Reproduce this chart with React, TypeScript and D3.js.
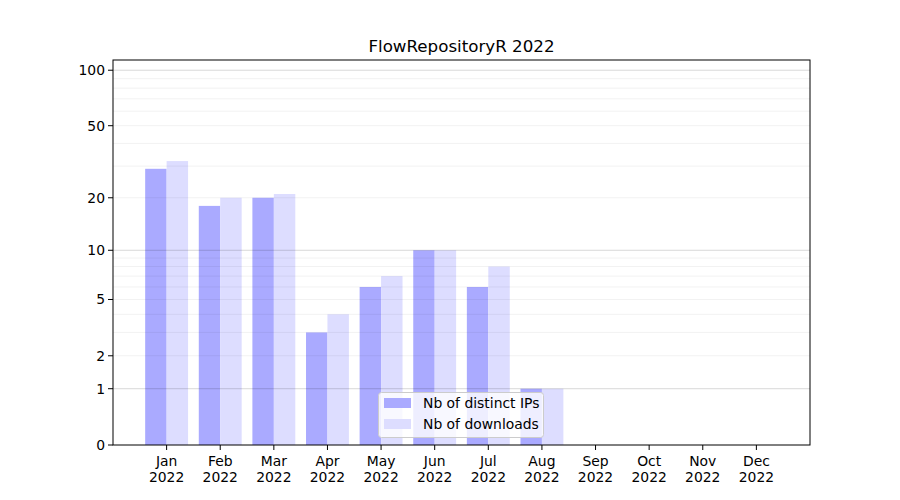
import React from "react";
import * as d3 from "d3";

const months = ["Jan", "Feb", "Mar", "Apr", "May", "Jun", "Jul", "Aug", "Sep", "Oct", "Nov", "Dec"];
const year = "2022";
const distinctIPs = [29, 18, 20, 3, 6, 10, 6, 1, 0, 0, 0, 0];
const downloads = [32, 20, 21, 4, 7, 10, 8, 1, 0, 0, 0, 0];
const yTickValues = [0, 1, 2, 5, 10, 20, 50, 100];
const majorGrid = [1, 10, 100];
const minorGrid = [2, 3, 4, 5, 6, 7, 8, 9, 20, 30, 40, 50, 60, 70, 80, 90];
const seriesNames = ["Nb of distinct IPs", "Nb of downloads"];
const title = "FlowRepositoryR 2022";

const W = 900, H = 500;
const L = 113, R = 810, T = 60, B = 445;
const FONT = "DejaVu Sans, sans-serif";
const FS = 13.9;

export default function App() {
  const x = d3.scaleLinear().domain([0, 13]).range([L, R]);
  const t = (v: number) => Math.log10(1 + v);
  const ly = d3.scaleLinear().domain([0, 2.059]).range([B, T]);
  const y = (v: number) => ly(t(v));
  const bw = 0.4;
  return (
    <svg width={W} height={H} style={{ position: "absolute", left: 0, top: 0, background: "#fff" }} fontFamily={FONT}>
      <rect x={0} y={0} width={W} height={H} fill="#fff" />
      {distinctIPs.map((v, i) => (
        <rect key={"a" + i} x={x(i + 1 - bw)} y={y(v)} width={x(bw) - x(0)} height={B - y(v)} fill="#aaaaff" />
      ))}
      {downloads.map((v, i) => (
        <rect key={"b" + i} x={x(i + 1)} y={y(v)} width={x(bw) - x(0)} height={B - y(v)} fill="#ddddff" />
      ))}
      {minorGrid.map((v) => (
        <line key={"m" + v} x1={L} x2={R} y1={y(v)} y2={y(v)} stroke="rgba(0,0,0,0.07)" strokeWidth={0.8} />
      ))}
      {majorGrid.map((v) => (
        <line key={"M" + v} x1={L} x2={R} y1={y(v)} y2={y(v)} stroke="rgba(0,0,0,0.2)" strokeWidth={0.8} />
      ))}
      <rect x={L} y={T} width={R - L} height={B - T} fill="none" stroke="#000" strokeWidth={1} />
      {yTickValues.map((v) => (
        <g key={"y" + v}>
          <line x1={L - 5} x2={L} y1={y(v)} y2={y(v)} stroke="#000" />
          <text x={L - 8} y={y(v)} dy="0.35em" textAnchor="end" fontSize={FS} fill="#000">{v}</text>
        </g>
      ))}
      {months.map((m, i) => (
        <g key={"x" + m}>
          <line x1={x(i + 1)} x2={x(i + 1)} y1={B} y2={B + 5} stroke="#000" />
          <text x={x(i + 1)} y={B + 21} textAnchor="middle" fontSize={FS} fill="#000">{m}</text>
          <text x={x(i + 1)} y={B + 37} textAnchor="middle" fontSize={FS} fill="#000">{year}</text>
        </g>
      ))}
      <text x={(L + R) / 2} y={52} textAnchor="middle" fontSize={16.7} fill="#000">{title}</text>
      <g>
        <rect x={378.5} y={392.5} width={165} height={45} rx={3} fill="rgba(255,255,255,0.8)" stroke="#cccccc" />
        <rect x={384} y={398} width={27} height={10} fill="#aaaaff" />
        <rect x={384} y={419} width={27} height={10} fill="#ddddff" />
        <text x={423} y={403} dy="0.35em" fontSize={FS} fill="#000">{seriesNames[0]}</text>
        <text x={423} y={424} dy="0.35em" fontSize={FS} fill="#000">{seriesNames[1]}</text>
      </g>
    </svg>
  );
}
